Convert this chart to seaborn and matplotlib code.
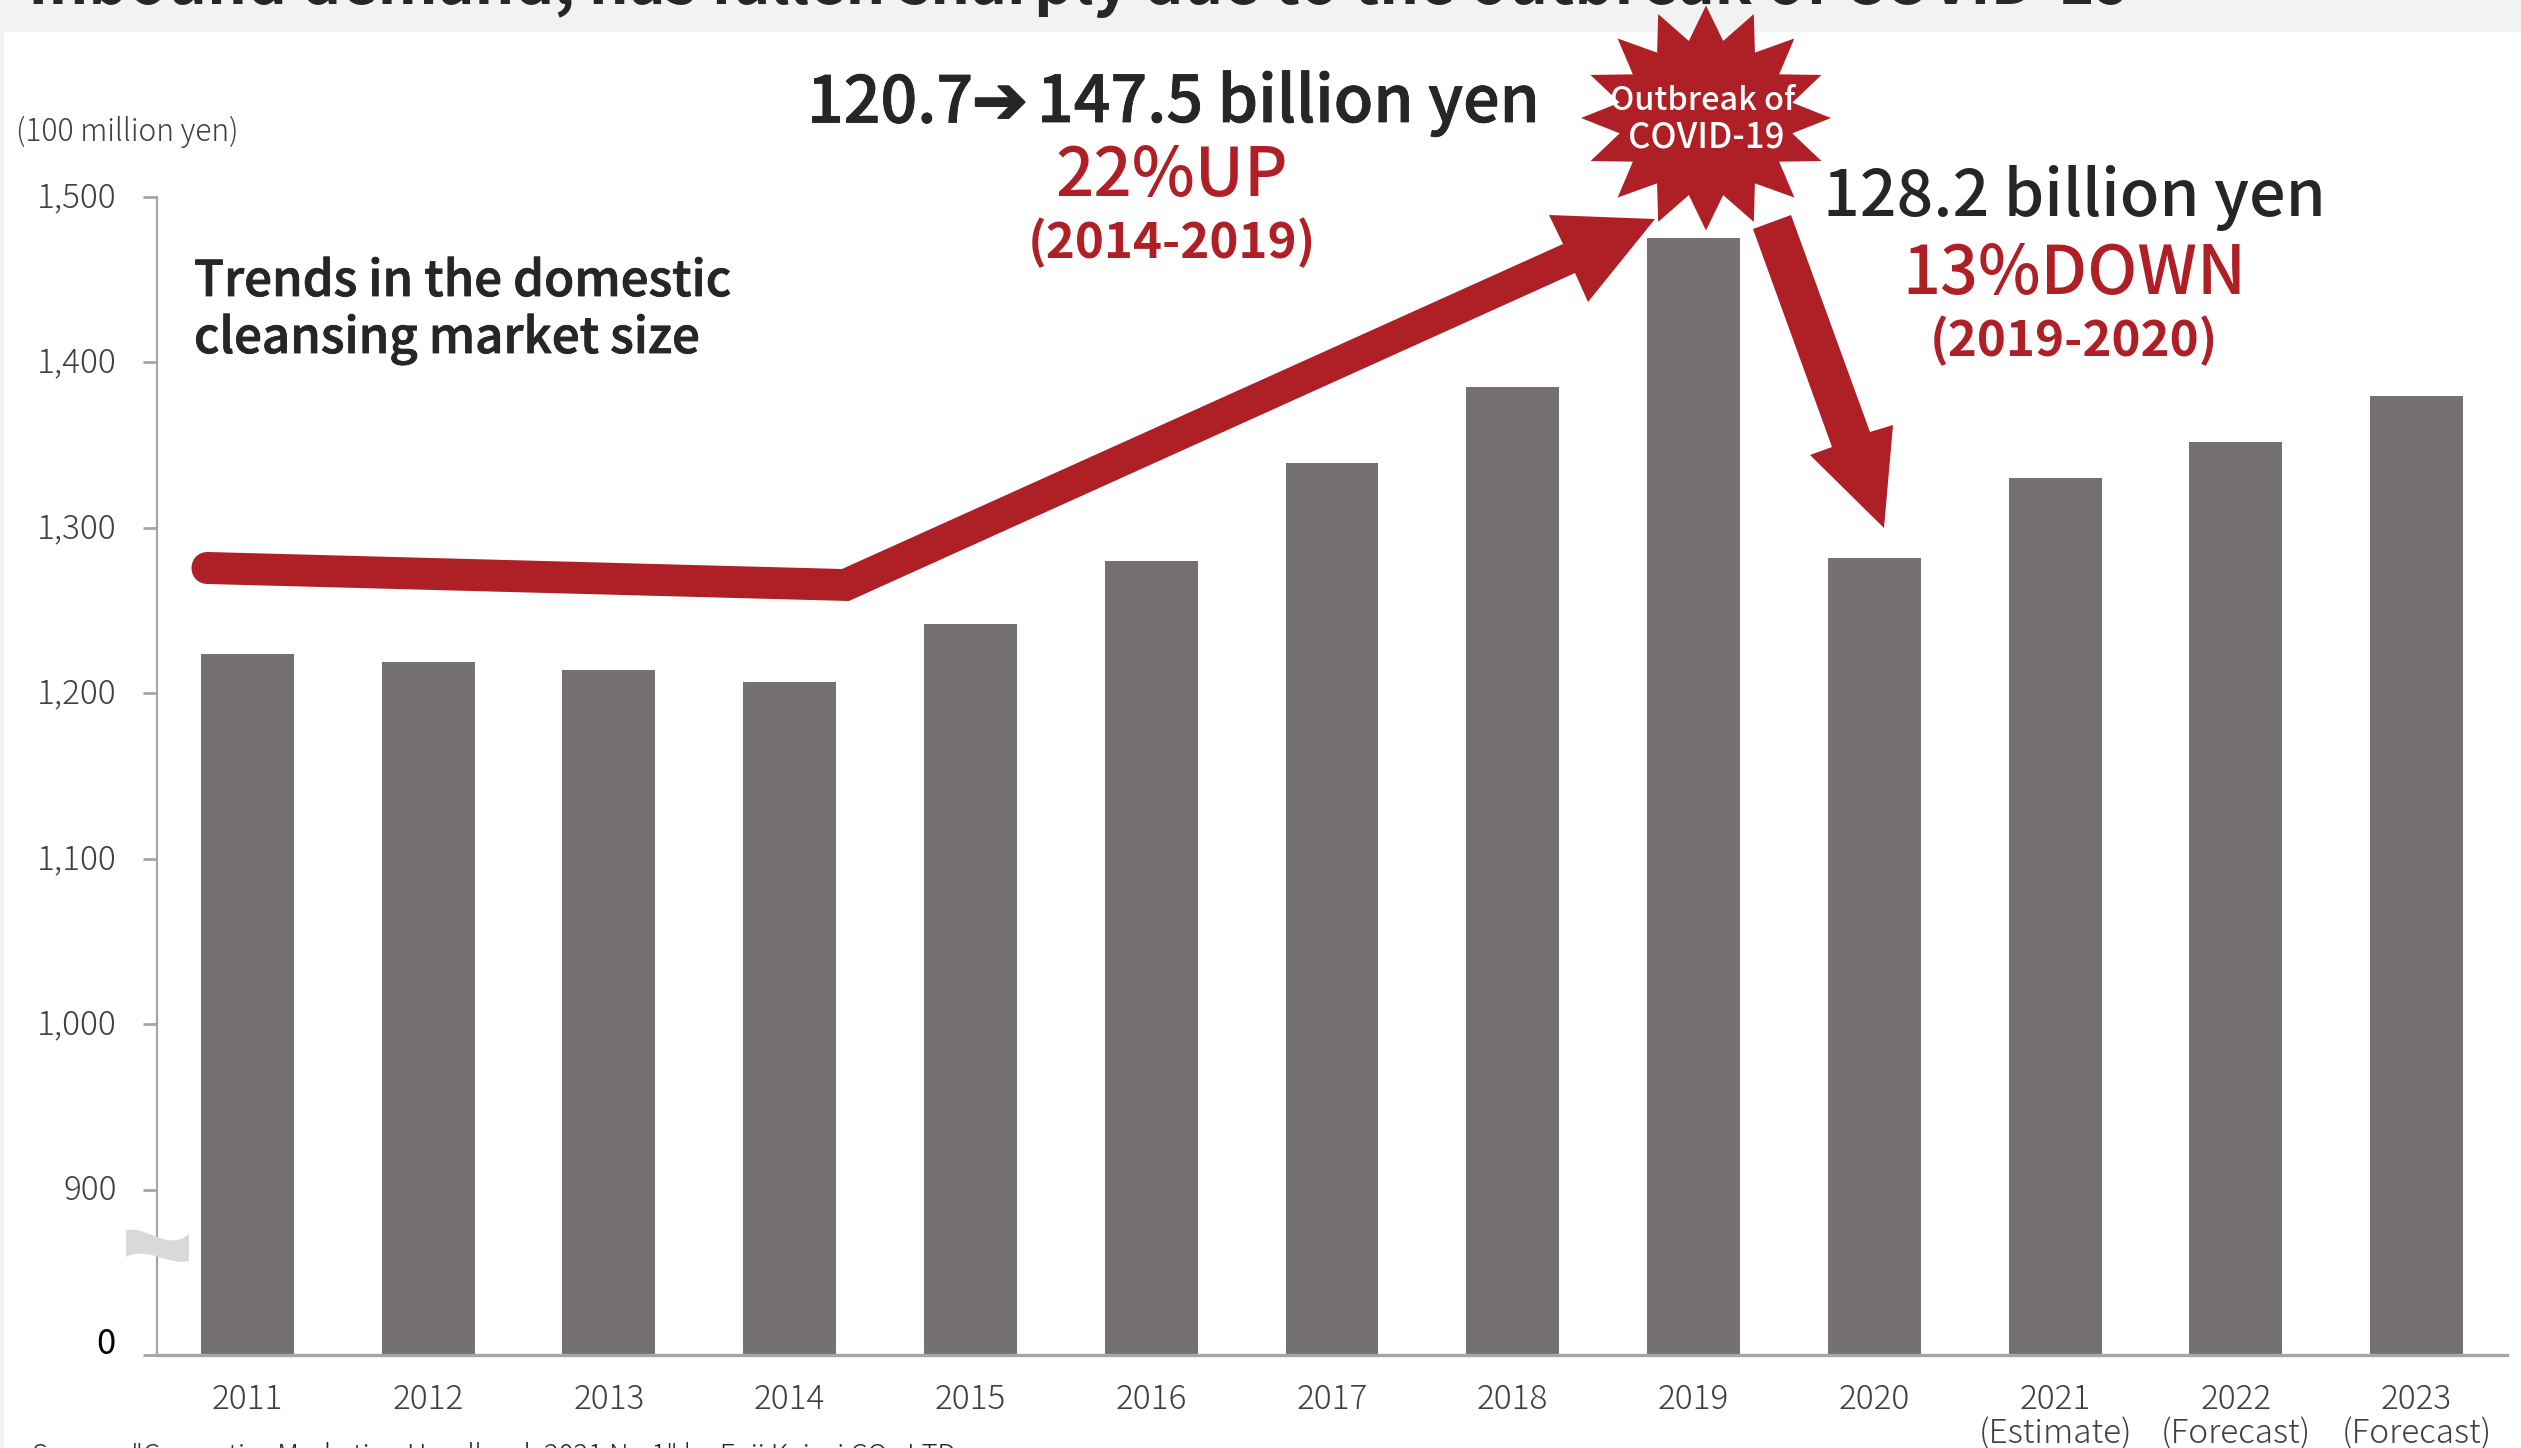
import numpy as np
import matplotlib
matplotlib.use("Agg")
import matplotlib.pyplot as plt
import matplotlib.patheffects as pe
from matplotlib.patches import PathPatch, Polygon, Rectangle
from matplotlib.path import Path
from matplotlib.transforms import Affine2D
import seaborn as sns

# Market size, 100 million yen
years = ["2011", "2012", "2013", "2014", "2015", "2016", "2017", "2018", "2019", "2020",
         "2021\n(Estimate)", "2022\n(Forecast)", "2023\n(Forecast)"]
market_size = [1224, 1219, 1214, 1207, 1242, 1280, 1339, 1385, 1475, 1282, 1330, 1352, 1380]
y_ticks = [0, 900, 1000, 1100, 1200, 1300, 1400, 1500]
y_tick_labels = ["", "900", "1,000", "1,100", "1,200", "1,300", "1,400", "1,500"]

WIDTH, HEIGHT = 2521, 1448
RED = "#ae2026"
BAR = "#767171"
DARK = "#262626"
TICK = "#404040"
AXIS = "#a6a6a6"
FONT = ["Noto Sans CJK JP", "DejaVu Sans"]

sns.set_theme(style="white")
plt.rcParams["font.family"] = FONT


def fwd(v):
    # The stretch from 0 to 900 is squeezed to the height of one 100-unit step.
    v = np.asarray(v, dtype=float)
    return np.where(v <= 900, v / 9.0, v - 800)


def inv(u):
    u = np.asarray(u, dtype=float)
    return np.where(u <= 100, u * 9.0, u + 800)


fig = plt.figure(figsize=(WIDTH / 100, HEIGHT / 100), dpi=100, facecolor="white")
px = Affine2D().scale(1, -1).translate(0, HEIGHT)  # top-left pixel coordinates

# Page background behind the chart panel
fig.add_artist(Rectangle((0, 0), WIDTH, 32, transform=px, fc="#f2f2f2", ec="none", zorder=0))
fig.add_artist(Rectangle((0, 0), 4, HEIGHT, transform=px, fc="#f2f2f2", ec="none", zorder=0))

left, right, top, bottom = 157, 2507, 197, 1355
ax = fig.add_axes([left / WIDTH, 1 - bottom / HEIGHT, (right - left) / WIDTH, (bottom - top) / HEIGHT])
ax.patch.set_alpha(0)

sns.barplot(x=years, y=market_size, color=BAR, saturation=1, width=0.514, ax=ax, linewidth=0)
ax.set_yscale("function", functions=(fwd, inv))
ax.set_ylim(0, 1500)
ax.set_xlim(-0.5, 12.5)
ax.set_yticks(y_ticks, y_tick_labels)
ax.minorticks_off()
ax.tick_params(axis="y", length=10, width=2, color=AXIS, labelsize=24, labelcolor=TICK, pad=19, left=True)
ax.tick_params(axis="x", length=0, labelsize=24, labelcolor=TICK, pad=20)
for lab in ax.get_yticklabels():
    lab.set_fontweight("light")
    lab.set_transform(lab.get_transform() + Affine2D().translate(0, 3))
for lab in ax.get_xticklabels():
    lab.set_fontweight("light")
    lab.set_linespacing(1.0)
for side in ("top", "right"):
    ax.spines[side].set_visible(False)
ax.spines["left"].set_color(AXIS)
ax.spines["left"].set_linewidth(1.6)
ax.spines["bottom"].set_color(AXIS)
ax.spines["bottom"].set_linewidth(2.4)
ax.set_xlabel("")
ax.set_ylabel("")


def label(x, y, s, size, color=DARK, weight="medium", ha="center", va="center", zorder=8, stroke=0, **kw):
    t = fig.text(x, y, s, transform=px, fontsize=size, color=color, fontweight=weight,
                 ha=ha, va=va, zorder=zorder, **kw)
    if stroke:
        t.set_path_effects([pe.withStroke(linewidth=stroke, foreground=color)])
    return t


# Axis break marker on the y axis
wave = Path(
    [(126, 1230), (148, 1226), (168, 1252), (189, 1234), (189, 1261),
     (168, 1266), (148, 1246), (126, 1257), (126, 1230)],
    [Path.MOVETO, Path.CURVE4, Path.CURVE4, Path.CURVE4, Path.LINETO,
     Path.CURVE4, Path.CURVE4, Path.CURVE4, Path.CLOSEPOLY],
)
fig.add_artist(PathPatch(wave, transform=px, fc="#d9d9d9", ec="none", zorder=6))

# Rising arrow from 2011 to 2019
rise = Path(
    [(208, 552), (842, 569), (1563, 244), (1549, 215), (1655, 219), (1588, 302), (1575, 273),
     (849, 601), (208, 584), (186, 584), (186, 552), (208, 552), (208, 552)],
    [Path.MOVETO, Path.LINETO, Path.LINETO, Path.LINETO, Path.LINETO, Path.LINETO, Path.LINETO,
     Path.LINETO, Path.LINETO, Path.CURVE4, Path.CURVE4, Path.CURVE4, Path.CLOSEPOLY],
)
fig.add_artist(PathPatch(rise, transform=px, fc=RED, ec="none", zorder=5))

# Falling arrow from 2019 to 2020
fall = [(1753, 229), (1791, 215), (1870, 432), (1893, 425), (1884, 528), (1810, 455), (1832, 447)]
fig.add_artist(Polygon(fall, closed=True, transform=px, fc=RED, ec="none", zorder=5))

# Sixteen-point burst
angles = np.deg2rad(np.arange(32) * 11.25)
rx = np.where(np.arange(32) % 2 == 0, 125, 88)
ry = np.where(np.arange(32) % 2 == 0, 112.5, 78.6)
burst = np.column_stack([1706 + rx * np.sin(angles), 118 - ry * np.cos(angles)])
fig.add_artist(Polygon(burst, closed=True, transform=px, fc=RED, ec="none", zorder=7))

# Text around the chart
label(28, 4, "Inbound demand, has fallen sharply due to the outbreak of COVID-19", 44.9,
      weight="bold", ha="left", va="baseline", color=DARK)
label(16, 132, "(100 million yen)", 21.6, color=TICK, weight="light", ha="left")
label(194, 282, "Trends in the domestic", 35.4, ha="left", stroke=0.6)
label(194, 340, "cleansing market size", 35.4, ha="left", stroke=0.6)
label(115, 1344, "0", 25, color="#000000", weight="normal", ha="right")

label(807, 104, "120.7", 46.4, ha="left", stroke=0.6)
label(972, 104, "➔", 48, ha="left", family="DejaVu Sans", stroke=1.4)
label(1037, 104, "147.5 billion yen", 46.4, ha="left", stroke=0.6)
label(1172, 177, "22%UP", 48.4, color=RED)
label(1172, 243, "(2014-2019)", 35.5, color=RED, weight="bold")
label(2074, 198, "128.2 billion yen", 46.4)
label(2074, 275, "13%DOWN", 48, color=RED)
label(2074, 341, "(2019-2020)", 35.5, color=RED, weight="bold")

label(1703, 101, "Outbreak of", 23.3, color="white", zorder=9)
label(1706, 138, "COVID-19", 25, color="white", zorder=9)

label(32, 1464, 'Source: "Cosmetics Marketing Handbook 2021 No.1" by Fuji Keizai CO., LTD.', 19.8,
      color=DARK, weight="light", ha="left", va="baseline")

fig.savefig("out.png", dpi=100)
